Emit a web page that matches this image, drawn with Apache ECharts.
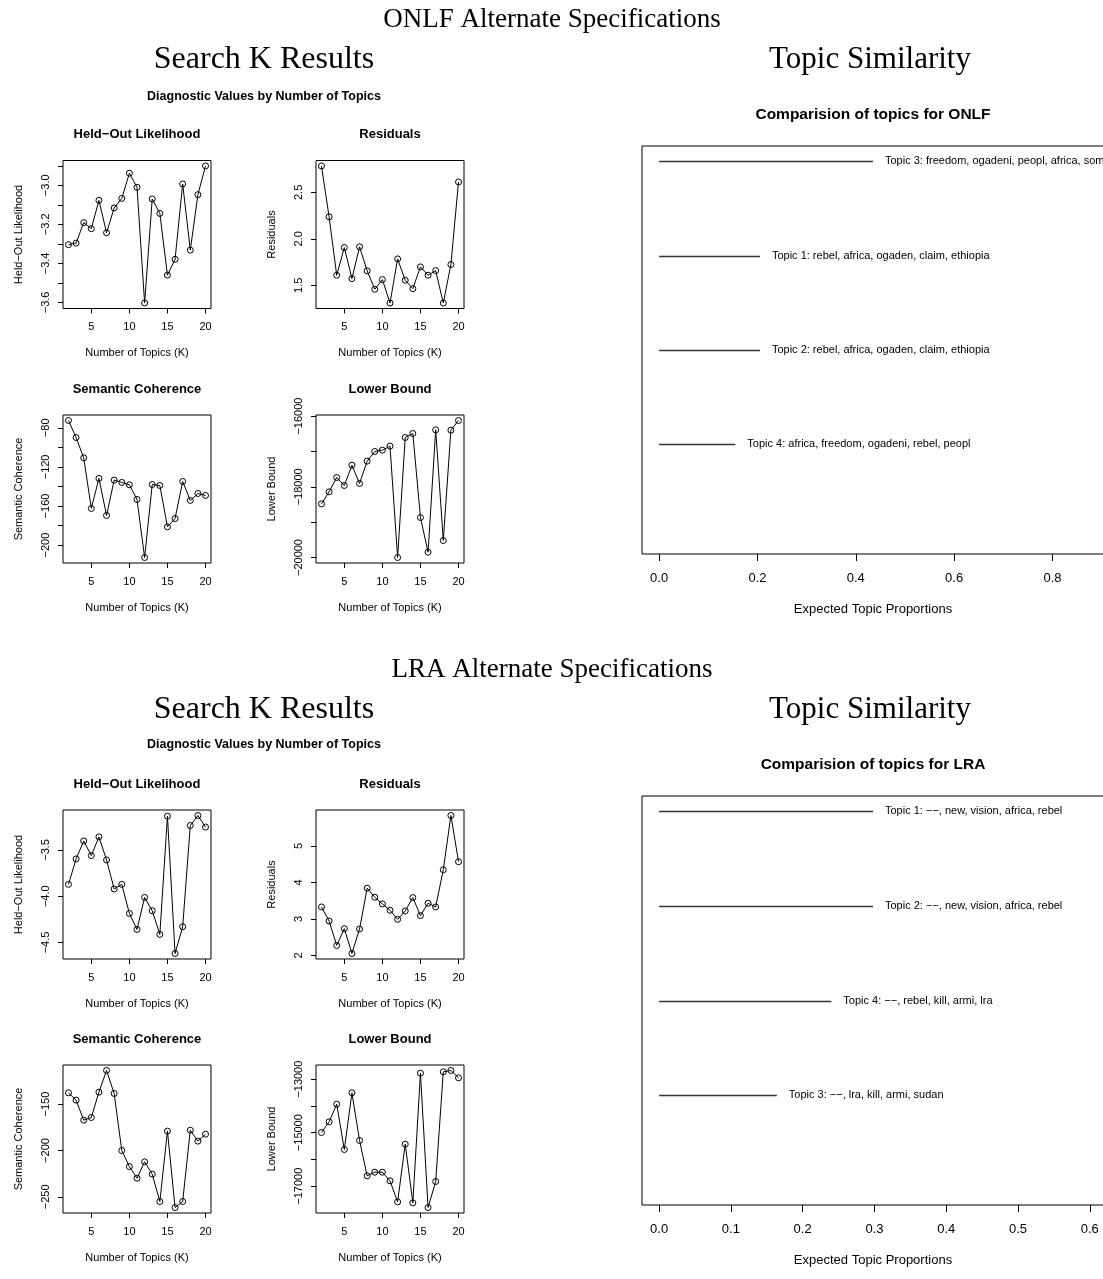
<!DOCTYPE html>
<html><head><meta charset="utf-8">
<script src="https://cdn.jsdelivr.net/npm/echarts@6/dist/echarts.min.js"></script>
<style>html,body{margin:0;padding:0;background:#fff}#c{width:1103px;height:1279px}</style>
</head><body><div id="c"></div>
<script>
// ---------- data ----------
const K = [2,3,4,5,6,7,8,9,10,11,12,13,14,15,16,17,18,19,20];
const kTicks = [5,10,15,20];

const onlfHeldout  = [-3.304,-3.296,-3.191,-3.222,-3.077,-3.243,-3.116,-3.067,-2.938,-3.010,-3.603,-3.070,-3.144,-3.460,-3.379,-2.993,-3.332,-3.048,-2.901];
const onlfResidual = [2.784,2.237,1.608,1.906,1.572,1.914,1.655,1.457,1.561,1.309,1.784,1.554,1.464,1.698,1.608,1.658,1.309,1.723,2.612];
const onlfSemcoh   = [-72.5,-89.9,-110.7,-162.5,-131.8,-169.7,-133.5,-135.9,-138.3,-153.3,-212.7,-138.0,-139.0,-181.3,-172.8,-134.9,-154.3,-147.2,-149.2];
const onlfBound    = [-18481,-18142,-17736,-17962,-17387,-17906,-17274,-17000,-16962,-16849,-20000,-16604,-16491,-18868,-19849,-16387,-19519,-16396,-16123];

const lraHeldout  = [-3.872,-3.597,-3.403,-3.561,-3.359,-3.608,-3.922,-3.872,-4.186,-4.359,-4.013,-4.157,-4.413,-3.135,-4.619,-4.330,-3.236,-3.128,-3.253];
const lraResidual = [3.330,2.945,2.275,2.734,2.055,2.725,3.844,3.596,3.413,3.239,2.991,3.220,3.587,3.092,3.431,3.330,4.349,5.835,4.569];
const lraSemcoh   = [-137.8,-145.7,-167.3,-164.4,-137.1,-113.7,-138.5,-200.0,-217.3,-229.9,-212.2,-225.5,-255.0,-179.1,-261.5,-255.0,-178.1,-189.9,-182.4];
const lraBound    = [-14994,-14595,-13935,-15629,-13511,-15293,-16614,-16477,-16477,-16801,-17586,-15430,-17623,-12776,-17798,-16826,-12726,-12676,-12950];

// y tick marks and labelled ticks
const onlfHeldoutTicks  = [-3.6,-3.5,-3.4,-3.3,-3.2,-3.1,-3.0,-2.9];
const onlfHeldoutLabels = [-3.6,-3.4,-3.2,-3.0];
const onlfResidualTicks = [1.5,2.0,2.5];
const onlfSemcohTicks   = [-200,-180,-160,-140,-120,-100,-80];
const onlfSemcohLabels  = [-200,-160,-120,-80];
const onlfBoundTicks    = [-20000,-19000,-18000,-17000,-16000];
const onlfBoundLabels   = [-20000,-18000,-16000];
const lraHeldoutTicks   = [-4.5,-4.0,-3.5];
const lraResidualTicks  = [2,3,4,5];
const lraSemcohTicks    = [-250,-200,-150];
const lraBoundTicks     = [-17000,-16000,-15000,-14000,-13000];
const lraBoundLabels    = [-17000,-15000,-13000];

const onlfTopicLabels = ["Topic 3: freedom, ogadeni, peopl, africa, somali",
                         "Topic 1: rebel, africa, ogaden, claim, ethiopia",
                         "Topic 2: rebel, africa, ogaden, claim, ethiopia",
                         "Topic 4: africa, freedom, ogadeni, rebel, peopl"];
const onlfTopicProps  = [0.435, 0.205, 0.205, 0.155];
const onlfPropTicks   = [0,0.2,0.4,0.6,0.8];

const lraTopicLabels = ["Topic 1: \u2212\u2212, new, vision, africa, rebel",
                        "Topic 2: \u2212\u2212, new, vision, africa, rebel",
                        "Topic 4: \u2212\u2212, rebel, kill, armi, lra",
                        "Topic 3: \u2212\u2212, lra, kill, armi, sudan"];
const lraTopicProps  = [0.298, 0.298, 0.240, 0.164];
const lraPropTicks   = [0,0.1,0.2,0.3,0.4,0.5,0.6];

// ---------- helpers ----------
const SANS = '"Liberation Sans", Arial, sans-serif';
const SERIF = '"Liberation Serif", "Times New Roman", serif';
function ext(arr){const mn=Math.min(...arr),mx=Math.max(...arr),d=(mx-mn)*0.04;return [mn-d,mx+d];}
function fmt(dec){return v=>(v<0?'\u2212':'')+Math.abs(v).toFixed(dec);}

const M = '\u2212';
const small = [
 {t:'Held'+M+'Out Likelihood', y:'Held'+M+'Out Likelihood', d:onlfHeldout, tk:onlfHeldoutTicks, lb:onlfHeldoutLabels, dec:1, left:63, top:160.5, h:148},
 {t:'Residuals', y:'Residuals', d:onlfResidual, tk:onlfResidualTicks, lb:onlfResidualTicks, dec:1, left:316, top:160.5, h:148},
 {t:'Semantic Coherence', y:'Semantic Coherence', d:onlfSemcoh, tk:onlfSemcohTicks, lb:onlfSemcohLabels, dec:0, left:63, top:415, h:148},
 {t:'Lower Bound', y:'Lower Bound', d:onlfBound, tk:onlfBoundTicks, lb:onlfBoundLabels, dec:0, left:316, top:415, h:148},
 {t:'Held'+M+'Out Likelihood', y:'Held'+M+'Out Likelihood', d:lraHeldout, tk:lraHeldoutTicks, lb:lraHeldoutTicks, dec:1, left:63, top:810, h:149},
 {t:'Residuals', y:'Residuals', d:lraResidual, tk:lraResidualTicks, lb:lraResidualTicks, dec:0, left:316, top:810, h:149},
 {t:'Semantic Coherence', y:'Semantic Coherence', d:lraSemcoh, tk:lraSemcohTicks, lb:lraSemcohTicks, dec:0, left:63, top:1065, h:148},
 {t:'Lower Bound', y:'Lower Bound', d:lraBound, tk:lraBoundTicks, lb:lraBoundLabels, dec:0, left:316, top:1065, h:148}
];
const topics = [
 {t:'Comparision of topics for ONLF', labels:onlfTopicLabels, props:onlfTopicProps, ticks:onlfPropTicks, top:146, h:408},
 {t:'Comparision of topics for LRA', labels:lraTopicLabels, props:lraTopicProps, ticks:lraPropTicks, top:796, h:409}
];

const grid=[], xAxis=[], yAxis=[], series=[], graphic=[];
function txt(x,y,s,size,fam,weight){
  graphic.push({type:'text', x:x, y:y, silent:true,
    style:{text:s, fontSize:size, fontFamily:fam, fontWeight:weight||'normal', fill:'#000', align:'center', verticalAlign:'middle'}});
}
const xr = ext(K);
small.forEach((p,i)=>{
  grid.push({left:p.left, top:p.top, width:148, height:p.h, show:true, borderColor:'#000', borderWidth:1, backgroundColor:'transparent', containLabel:false, outerBoundsMode:'none'});
  xAxis.push({gridIndex:i, type:'value', min:xr[0], max:xr[1],
    axisLine:{show:false, onZero:false}, splitLine:{show:false},
    axisTick:{show:true, length:5, customValues:kTicks, lineStyle:{color:'#000', width:1}},
    axisLabel:{customValues:kTicks, margin:13, fontSize:11, color:'#000', fontFamily:SANS},
    name:'Number of Topics (K)', nameLocation:'middle', nameGap:39, nameMoveOverlap:false,
    nameTextStyle:{fontSize:11, color:'#000', fontFamily:SANS}});
  const yr = ext(p.d);
  yAxis.push({gridIndex:i, type:'value', min:yr[0], max:yr[1],
    axisLine:{show:false, onZero:false}, splitLine:{show:false},
    axisTick:{show:true, length:5, customValues:p.tk, lineStyle:{color:'#000', width:1}},
    axisLabel:{customValues:p.lb, rotate:90, margin:12, fontSize:11, color:'#000', fontFamily:SANS, formatter:fmt(p.dec)},
    name:p.y, nameLocation:'middle', nameGap:39, nameRotate:90, nameMoveOverlap:false,
    nameTextStyle:{fontSize:11, color:'#000', fontFamily:SANS}});
  series.push({type:'line', xAxisIndex:i, yAxisIndex:i, data:K.map((k,j)=>[k,p.d[j]]),
    symbol:'circle', symbolSize:6, showAllSymbol:true, silent:true,
    itemStyle:{color:'rgba(0,0,0,0)', borderColor:'#000', borderWidth:1},
    lineStyle:{color:'#000', width:1}, emphasis:{disabled:true}, animation:false});
  txt(p.left+74, p.top-26, p.t, 13, SANS, 'bold');
});
topics.forEach((p,j)=>{
  const gi = small.length + j;
  grid.push({left:642, top:p.top, width:462, height:p.h, show:true, borderColor:'#000', borderWidth:1, backgroundColor:'transparent', containLabel:false, outerBoundsMode:'none'});
  const xr2 = ext([0, Math.min(2*Math.max(...p.props),1)]);
  xAxis.push({gridIndex:gi, type:'value', min:xr2[0], max:xr2[1],
    axisLine:{show:false, onZero:false}, splitLine:{show:false},
    axisTick:{show:true, length:7, customValues:p.ticks, lineStyle:{color:'#000', width:1}},
    axisLabel:{customValues:p.ticks, margin:18, fontSize:13, color:'#000', fontFamily:SANS, formatter:fmt(1)},
    name:'Expected Topic Proportions', nameLocation:'middle', nameGap:49, nameMoveOverlap:false,
    nameTextStyle:{fontSize:13, color:'#000', fontFamily:SANS}});
  const n = p.props.length;
  const yr2 = ext([0, n]);
  yAxis.push({gridIndex:gi, type:'value', min:yr2[0], max:yr2[1], show:false,
    axisLine:{show:false, onZero:false}, splitLine:{show:false}});
  const labels = p.labels;
  series.push({type:'custom', xAxisIndex:gi, yAxisIndex:gi, clip:false, silent:true, animation:false,
    data:p.props.map((v,i)=>[v, n-i]),
    renderItem:(params, api)=>{
      const a = api.coord([0, api.value(1)]);
      const b = api.coord([api.value(0), api.value(1)]);
      return {type:'group', children:[
        {type:'line', shape:{x1:a[0], y1:Math.round(a[1])+0.5, x2:b[0], y2:Math.round(b[1])+0.5}, style:{stroke:'#333', lineWidth:1.3}},
        {type:'text', x:b[0]+12, y:b[1], style:{text:labels[params.dataIndex], fontSize:11, fontFamily:SANS, fill:'#000', align:'left', verticalAlign:'middle'}}
      ]};
    }});
  txt(873, p.top-31, p.t, 15.5, SANS, 'bold');
});

// headings
txt(552, 20, 'ONLF Alternate Specifications', 27, SERIF);
txt(264, 60, 'Search K Results', 32, SERIF);
txt(870, 60, 'Topic Similarity', 31, SERIF);
txt(264, 97, 'Diagnostic Values by Number of Topics', 12.5, SANS, 'bold');
txt(552, 670, 'LRA Alternate Specifications', 27, SERIF);
txt(264, 710, 'Search K Results', 32, SERIF);
txt(870, 710, 'Topic Similarity', 31, SERIF);
txt(264, 745, 'Diagnostic Values by Number of Topics', 12.5, SANS, 'bold');

const chart = echarts.init(document.getElementById('c'), null, {renderer:'canvas'});
chart.setOption({animation:false, backgroundColor:'#fff', grid, xAxis, yAxis, series, graphic});
</script></body></html>
